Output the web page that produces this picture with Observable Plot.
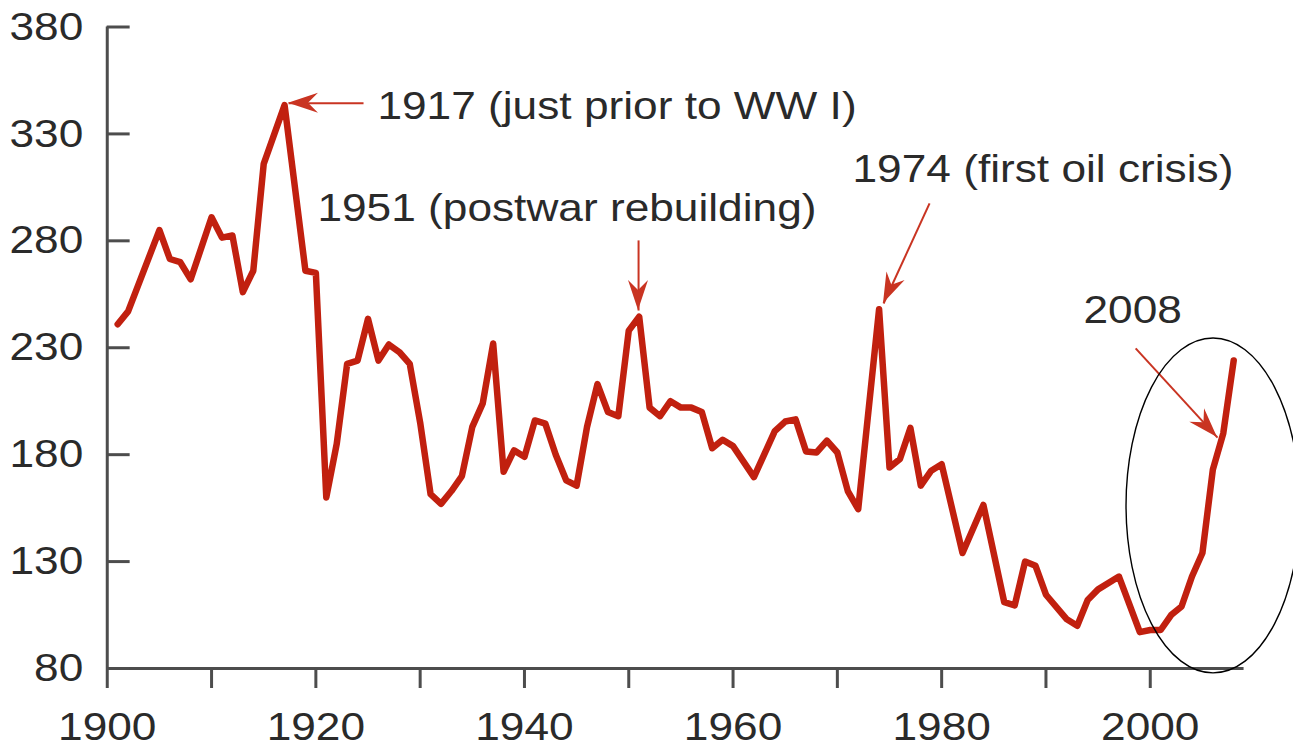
<!DOCTYPE html>
<html>
<head>
<meta charset="utf-8">
<script src="https://cdn.jsdelivr.net/npm/d3@7"></script>
<script src="https://cdn.jsdelivr.net/npm/@observablehq/plot@0.6"></script>
<style>
  html, body { margin: 0; padding: 0; background: #fff; overflow: hidden; }
  #chart svg { display: block; }
</style>
</head>
<body>
<div id="chart"></div>
<script>
// ---- data ----
const years = [1901,1902,1905,1906,1907,1908,1910,1911,1912,1913,1914,1915,1917,1919,1920,
  1921,1922,1923,1924,1925,1926,1927,1928,1929,1930,1931,1932,1933,1934,1935,1936,1937,1938,1939,1940,
  1941,1942,1943,1944,1945,1946,1947,1948,1949,1950,1951,1952,1953,1954,1955,1956,1957,1958,1959,1960,
  1962,1964,1965,1966,1967,1968,1969,1970,1971,1972,1974,1975,1976,1977,1978,1979,1980,
  1982,1984,1986,1987,1988,1989,1990,1992,1993,1994,1995,1997,1999,2000,
  2001,2002,2003,2004,2005,2006,2007,2008];
const values = [241,247,285,271.5,270,262,291,281.5,282.5,256,266,316,343.5,266,265,
  160,185,222.5,224,243.5,224,231.5,228,222.5,195,161.5,157,163,170,193,204,232,172,182,179,
  196,194.5,180,168,165.5,193,213,200,198,238,244.5,202,198,205,202,202,200,183,187,184,
  169.5,191,195.5,196.5,181.5,181,186.5,181,163,154.5,248,174,178,192.5,165.5,172.5,175.5,
  134,156.5,111,109.5,130,128,114.5,103,100,112,117,123,97,98,
  98,105,109,123,134,173,190,224];

const yTicks = [80,130,180,230,280,330,380];
const xTicks = [1900,1910,1920,1930,1940,1950,1960,1970,1980,1990,2000];
const xLabels = [1900,1920,1940,1960,1980,2000];

const noteText = ["1917 (just prior to WW I)", "1951 (postwar rebuilding)", "1974 (first oil crisis)", "2008"];
const noteX = [1925.9, 1920.15, 1971.45, 1993.6];
const noteY = [336.9, 289.1, 307.5, 241.4];

const arrowFromX = [1924.57, 1950.94, 1978.84, 1998.6];
const arrowFromY = [344.3, 280.2, 297.5, 229.7];
const arrowToX   = [1917.38, 1950.94, 1974.43, 2006.45];
const arrowToY   = [344.3, 247.4, 250.7, 188.0];

const ellipseCenter = [2006.07, 156];
const ellipseRadius = [8.34, 78.3];

// ---- styling ----
const W = 1293, H = 748;
const k = 1.12;                 // horizontal stretch of the original picture
const W0 = W / k;
const lineColor = "#c1200f";
const arrowColor = "#c93422";
const axisColor = "#4d4d4d";
const textColor = "#2a2a2a";
const fontSize = 39.5;

const data = years.map((y, i) => ({year: y, value: values[i]}));
const idx = noteText.map((_, i) => i);

const chart = Plot.plot({
  width: W0,
  height: H,
  marginLeft: 106.7 / k,
  marginRight: (W - 1254) / k,
  marginTop: 26.5,
  marginBottom: 80,
  x: {domain: [1900, 2010]},
  y: {domain: [80, 380]},
  style: {fontFamily: "'Liberation Sans', Arial, Helvetica, sans-serif", fontSize: fontSize + "px", color: textColor, background: "#fff"},
  marks: [
    // axes
    Plot.ruleX([1900], {y1: 80, y2: 380, stroke: axisColor, strokeWidth: 3}),
    Plot.ruleY([80], {x1: 1900, x2: 2009, stroke: axisColor, strokeWidth: 3}),
    Plot.ruleY(yTicks, {x1: 1900, x2: 1902.2, stroke: axisColor, strokeWidth: 3}),
    Plot.axisY(yTicks, {tickSize: 0, tickPadding: 24 / k, label: null, tickFormat: "d", fill: textColor}),
    Plot.axisX(xTicks, {tickSize: 20, fill: "none", stroke: axisColor, strokeWidth: 3, label: null}),
    Plot.axisX(xLabels, {tickSize: 0, tickPadding: 43, label: null, tickFormat: "d", fill: textColor}),
    // data line
    Plot.line(data, {x: "year", y: "value", stroke: lineColor, strokeWidth: 6.5, strokeLinejoin: "round", strokeLinecap: "round"}),
    // annotation arrows (shafts)
    Plot.link(idx, {x1: i => arrowFromX[i], y1: i => arrowFromY[i], x2: i => arrowToX[i], y2: i => arrowToY[i], stroke: arrowColor, strokeWidth: 2}),
    // annotation texts
    Plot.text(idx, {x: i => noteX[i], y: i => noteY[i], text: i => noteText[i], textAnchor: "start", lineAnchor: "bottom", fill: textColor, fontSize: fontSize})
  ]
});

// stretch horizontally like the original picture
chart.setAttribute("width", W);
chart.setAttribute("height", H);
chart.setAttribute("preserveAspectRatio", "none");
chart.style.width = W + "px";
chart.style.height = H + "px";
chart.style.maxWidth = "none";

// arrowheads and ellipse, positioned through Plot's scales
const sx = chart.scale("x"), sy = chart.scale("y");
const X = v => sx.apply(v), Y = v => sy.apply(v);
const g = d3.select(chart).append("g");
idx.forEach(i => {
  // work in final (stretched) pixels so heads keep their shape
  const x1 = X(arrowFromX[i]) * k, y1 = Y(arrowFromY[i]);
  const x2 = X(arrowToX[i]) * k, y2 = Y(arrowToY[i]);
  const len = Math.hypot(x2 - x1, y2 - y1);
  const ux = (x2 - x1) / len, uy = (y2 - y1) / len;
  const px = -uy, py = ux;
  const L = 30, Wd = 10, N = 20;
  const pts = [
    [x2, y2],
    [x2 - ux * L + px * Wd, y2 - uy * L + py * Wd],
    [x2 - ux * N, y2 - uy * N],
    [x2 - ux * L - px * Wd, y2 - uy * L - py * Wd]
  ].map(([a, b]) => [a / k, b]);
  g.append("path")
    .attr("d", "M" + pts.map(p => p.join(",")).join("L") + "Z")
    .attr("fill", arrowColor);
});
const cx = X(ellipseCenter[0]), cy = Y(ellipseCenter[1]);
g.append("ellipse")
  .attr("cx", cx).attr("cy", cy)
  .attr("rx", X(ellipseCenter[0] + ellipseRadius[0]) - cx)
  .attr("ry", Y(ellipseCenter[1] - ellipseRadius[1]) - cy)
  .attr("fill", "none").attr("stroke", "#000").attr("stroke-width", 1.4);

// keep stroke widths uniform despite the stretch
d3.select(chart).selectAll("path, line, ellipse").attr("vector-effect", "non-scaling-stroke");

document.getElementById("chart").appendChild(chart);
</script>
</body>
</html>
